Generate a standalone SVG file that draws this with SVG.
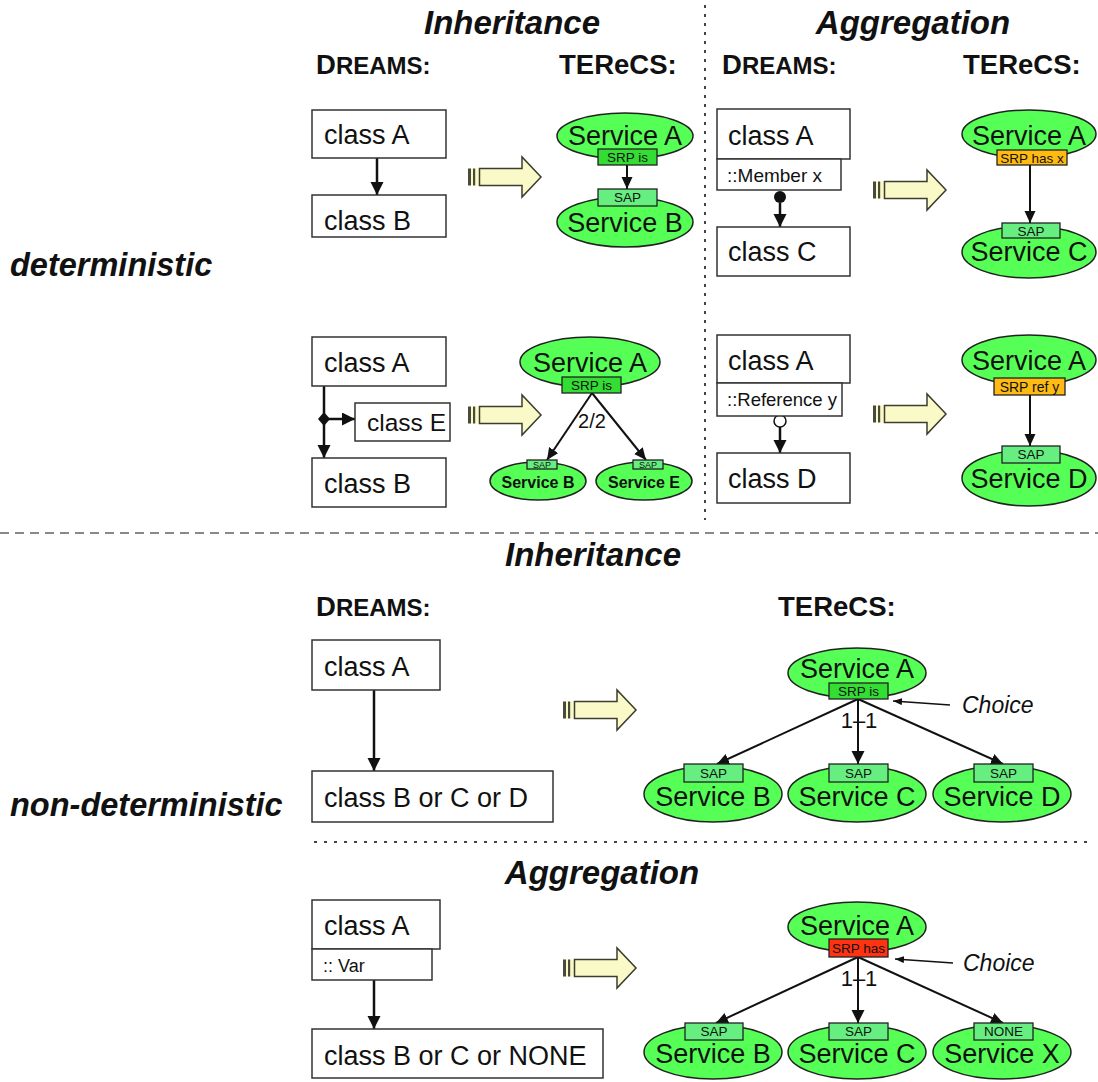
<svg xmlns="http://www.w3.org/2000/svg" xmlns:xlink="http://www.w3.org/1999/xlink" width="1098" height="1082" viewBox="0 0 1098 1082">
  <style>
    text { font-family: "Liberation Sans", Arial, sans-serif; fill: #111; }
    .head { font-size: 33px; font-weight: bold; font-style: italic; text-anchor: middle; }
    .side { font-size: 32.5px; font-weight: bold; font-style: italic; }
    .tool { font-size: 24px; font-weight: bold; }
    .tool2 { font-size: 27.5px; font-weight: bold; }
    .cls { font-size: 27px; }
    .mem { font-size: 19px; }
    .svcT { font-size: 27px; text-anchor: middle; }
    .svcS { font-size: 16px; font-weight: bold; text-anchor: middle; }
    .tag { font-size: 13.5px; text-anchor: middle; }
    .tagS { font-size: 9px; text-anchor: middle; }
    .num { font-size: 20px; text-anchor: middle; }
    .note { font-size: 23px; font-style: italic; }
    .box { fill: #fff; stroke: #333; stroke-width: 1.5; }
    .svc { fill: #55ff55; stroke: #222; stroke-width: 1.5; }
    .srp { fill: #33dd33; stroke: #222; stroke-width: 1.3; }
    .has { fill: #ffbb11; stroke: #222; stroke-width: 1.3; }
    .red { fill: #ff3311; stroke: #222; stroke-width: 1.3; }
    .sap { fill: #66ee80; stroke: #222; stroke-width: 1.3; }
    .conn { stroke: #111; stroke-width: 2.5; fill: none; }
    .sconn { stroke: #111; stroke-width: 2; fill: none; }
    .thin { stroke: #111; stroke-width: 1.3; fill: none; }
  </style>
  <defs>
    <marker id="ah" markerUnits="userSpaceOnUse" markerWidth="14" markerHeight="14" refX="13" refY="6.5" orient="auto">
      <path d="M0,0 L13,6.5 L0,13 z" fill="#111"/>
    </marker>
    <marker id="ah2" markerUnits="userSpaceOnUse" markerWidth="13" markerHeight="12" refX="12" refY="5.5" orient="auto">
      <path d="M0,0 L12,5.5 L0,11 z" fill="#111"/>
    </marker>
    <marker id="ah3" markerUnits="userSpaceOnUse" markerWidth="10" markerHeight="8" refX="9" refY="3.5" orient="auto">
      <path d="M0,0 L9,3.5 L0,7 z" fill="#111"/>
    </marker>
    <!-- transformation arrow, origin at the tail, vertically centred -->
    <g id="blk">
      <rect x="0" y="-8.5" width="12" height="17" fill="#fafac8"/>
      <rect x="0" y="-8.5" width="3" height="17" fill="#4a4a3a"/>
      <rect x="5" y="-8.5" width="2.2" height="17" fill="#4a4a3a"/>
      <polygon points="11.5,-8.5 54,-8.5 54,-20 73,0 54,20 54,8.5 11.5,8.5" fill="#fafac8" stroke="#3c3c30" stroke-width="1.5"/>
    </g>
  </defs>

  <!-- section separators -->
  <g id="separators">
    <line x1="705" y1="5" x2="705" y2="520" stroke="#444" stroke-width="2" stroke-dasharray="3 6"/>
    <line x1="0" y1="533" x2="1098" y2="533" stroke="#888" stroke-width="2" stroke-dasharray="9 6"/>
    <line x1="314" y1="842" x2="1092" y2="842" stroke="#444" stroke-width="2" stroke-dasharray="3 7"/>
  </g>

  <!-- headings -->
  <g id="headings">
    <text class="head" x="512" y="34">Inheritance</text>
    <text class="head" x="913" y="34">Aggregation</text>
    <text class="tool" x="316" y="74"><tspan style="font-size:27.5px">D</tspan>REAMS:</text>
    <text class="tool2" x="559" y="74">TEReCS:</text>
    <text class="tool" x="722" y="74"><tspan style="font-size:27.5px">D</tspan>REAMS:</text>
    <text class="tool2" x="963" y="74">TEReCS:</text>
    <text class="side" x="10" y="276">deterministic</text>
    <text class="head" x="593" y="566">Inheritance</text>
    <text class="tool" x="316" y="616"><tspan style="font-size:27.5px">D</tspan>REAMS:</text>
    <text class="tool2" x="778" y="616">TEReCS:</text>
    <text class="side" x="10" y="816">non-deterministic</text>
    <text class="head" x="602" y="884">Aggregation</text>
  </g>

  <!-- transformation arrows -->
  <g id="transforms">
    <use xlink:href="#blk" x="468" y="177"/>
    <use xlink:href="#blk" x="468" y="415"/>
    <use xlink:href="#blk" x="873" y="190"/>
    <use xlink:href="#blk" x="873" y="414"/>
    <use xlink:href="#blk" x="563" y="710"/>
    <use xlink:href="#blk" x="563" y="968"/>
  </g>

  <!-- connectors -->
  <g id="connectors">
    <!-- inheritance, deterministic -->
    <line class="conn" x1="377" y1="158" x2="377" y2="195" marker-end="url(#ah)"/>
    <line class="sconn" x1="627" y1="165" x2="627" y2="189" marker-end="url(#ah2)"/>
    <line class="conn" x1="324" y1="386" x2="324" y2="458" marker-end="url(#ah)"/>
    <line class="conn" x1="324" y1="419" x2="355" y2="419" marker-end="url(#ah)"/>
    <polygon points="324,412 330,419 324,426 318,419" fill="#111"/>
    <line class="sconn" x1="592" y1="393" x2="547" y2="460" marker-end="url(#ah2)"/>
    <line class="sconn" x1="592" y1="393" x2="646" y2="460" marker-end="url(#ah2)"/>
    <!-- aggregation, deterministic -->
    <line class="conn" x1="780" y1="203" x2="780" y2="227" marker-end="url(#ah)"/>
    <circle cx="780" cy="197" r="6" fill="#111"/>
    <line class="sconn" x1="1030" y1="165" x2="1030" y2="223" marker-end="url(#ah2)"/>
    <line class="conn" x1="780" y1="427" x2="780" y2="453" marker-end="url(#ah)"/>
    <circle cx="780" cy="421" r="6" fill="#fff" stroke="#111" stroke-width="1.5"/>
    <line class="sconn" x1="1030" y1="395" x2="1030" y2="446" marker-end="url(#ah2)"/>
    <!-- inheritance, non-deterministic -->
    <line class="conn" x1="374" y1="690" x2="374" y2="771" marker-end="url(#ah)"/>
    <line class="sconn" x1="858" y1="699" x2="717" y2="764" marker-end="url(#ah2)"/>
    <line class="sconn" x1="858" y1="699" x2="858" y2="764" marker-end="url(#ah)"/>
    <line class="sconn" x1="858" y1="699" x2="1003" y2="764" marker-end="url(#ah2)"/>
    <line class="thin" x1="950" y1="705" x2="893" y2="701" marker-end="url(#ah3)"/>
    <!-- aggregation, non-deterministic -->
    <line class="conn" x1="374" y1="980" x2="374" y2="1029" marker-end="url(#ah)"/>
    <line class="sconn" x1="858" y1="957" x2="716" y2="1023" marker-end="url(#ah2)"/>
    <line class="sconn" x1="858" y1="957" x2="858" y2="1023" marker-end="url(#ah)"/>
    <line class="sconn" x1="858" y1="957" x2="1003" y2="1023" marker-end="url(#ah2)"/>
    <line class="thin" x1="953" y1="963" x2="895" y2="959" marker-end="url(#ah3)"/>
  </g>

  <!-- DREAMS classes -->
  <g id="d1-classA"><rect class="box" x="312" y="110" width="134" height="48"/><text class="cls" x="324" y="144">class A</text></g>
  <g id="d1-classB"><rect class="box" x="312" y="195" width="134" height="42"/><text class="cls" x="324" y="230">class B</text></g>

  <g id="d2-classA"><rect class="box" x="312" y="337" width="134" height="49"/><text class="cls" x="324" y="372">class A</text></g>
  <g id="d2-classE"><rect class="box" x="355" y="403" width="95" height="38"/><text class="cls" x="367" y="431" style="font-size:24.5px">class E</text></g>
  <g id="d2-classB"><rect class="box" x="312" y="458" width="134" height="49"/><text class="cls" x="324" y="493">class B</text></g>

  <g id="d3-classA"><rect class="box" x="717" y="109" width="133" height="50"/><text class="cls" x="728" y="145">class A</text></g>
  <g id="d3-member"><rect class="box" x="717" y="159" width="124" height="31"/><text class="mem" x="727" y="182">::Member x</text></g>
  <g id="d3-classC"><rect class="box" x="717" y="227" width="133" height="49"/><text class="cls" x="728" y="261">class C</text></g>

  <g id="d4-classA"><rect class="box" x="717" y="335" width="133" height="48"/><text class="cls" x="728" y="370">class A</text></g>
  <g id="d4-ref"><rect class="box" x="717" y="383" width="125" height="33"/><text class="mem" x="727" y="406" style="font-size:18.5px">::Reference y</text></g>
  <g id="d4-classD"><rect class="box" x="717" y="453" width="133" height="50"/><text class="cls" x="728" y="488">class D</text></g>

  <g id="d5-classA"><rect class="box" x="312" y="640" width="128" height="50"/><text class="cls" x="324" y="676">class A</text></g>
  <g id="d5-classBCD"><rect class="box" x="312" y="771" width="241" height="51"/><text class="cls" x="324" y="807">class B or C or D</text></g>

  <g id="d6-classA"><rect class="box" x="312" y="900" width="128" height="49"/><text class="cls" x="324" y="935">class A</text></g>
  <g id="d6-var"><rect class="box" x="312" y="949" width="120" height="31"/><text class="mem" x="323" y="972" style="font-size:18px">:: Var</text></g>
  <g id="d6-classBCN"><rect class="box" x="312" y="1029" width="291" height="49"/><text class="cls" x="324" y="1065">class B or C or NONE</text></g>

  <!-- TEReCS services: deterministic inheritance -->
  <g id="t1-serviceA"><ellipse class="svc" cx="625" cy="136" rx="68" ry="23"/><text class="svcT" x="625" y="145">Service A</text>
    <rect class="srp" x="598" y="149" width="59" height="16"/><text class="tag" x="627.5" y="162">SRP is</text></g>
  <g id="t1-serviceB"><ellipse class="svc" cx="625" cy="222" rx="68" ry="25"/><text class="svcT" x="625" y="232">Service B</text>
    <rect class="sap" x="598" y="189" width="59" height="17"/><text class="tag" x="627.5" y="202">SAP</text></g>

  <g id="t2-serviceA"><ellipse class="svc" cx="590" cy="362" rx="70" ry="25"/><text class="svcT" x="590" y="372">Service A</text>
    <rect class="srp" x="562" y="377" width="59" height="16"/><text class="tag" x="591.5" y="390">SRP is</text></g>
  <text class="num" x="592" y="428">2/2</text>
  <g id="t2-serviceB"><ellipse class="svc" cx="538" cy="481" rx="48" ry="19"/><text class="svcS" x="538" y="488">Service B</text>
    <rect class="sap" x="527" y="460" width="30" height="9"/><text class="tagS" x="542" y="468">SAP</text></g>
  <g id="t2-serviceE"><ellipse class="svc" cx="644" cy="481" rx="48" ry="19"/><text class="svcS" x="644" y="488">Service E</text>
    <rect class="sap" x="633" y="460" width="30" height="9"/><text class="tagS" x="648" y="468">SAP</text></g>

  <!-- TEReCS services: deterministic aggregation -->
  <g id="t3-serviceA"><ellipse class="svc" cx="1029" cy="134" rx="67" ry="24"/><text class="svcT" x="1029" y="145">Service A</text>
    <rect class="has" x="997" y="150" width="70" height="15"/><text class="tag" x="1032" y="162.5">SRP has x</text></g>
  <g id="t3-serviceC"><ellipse class="svc" cx="1029" cy="252" rx="67" ry="26"/><text class="svcT" x="1029" y="261">Service C</text>
    <rect class="sap" x="1002" y="223" width="58" height="15"/><text class="tag" x="1031" y="235.5">SAP</text></g>

  <g id="t4-serviceA"><ellipse class="svc" cx="1029" cy="360" rx="67" ry="25"/><text class="svcT" x="1029" y="370">Service A</text>
    <rect class="has" x="994" y="378" width="71" height="17"/><text class="tag" x="1029.5" y="391.5" style="font-size:14px">SRP ref y</text></g>
  <g id="t4-serviceD"><ellipse class="svc" cx="1029" cy="478" rx="67" ry="28"/><text class="svcT" x="1029" y="488">Service D</text>
    <rect class="sap" x="1002" y="446" width="58" height="17"/><text class="tag" x="1031" y="459">SAP</text></g>

  <!-- TEReCS services: non-deterministic inheritance -->
  <g id="t5-serviceA"><ellipse class="svc" cx="857" cy="673" rx="69" ry="25"/><text class="svcT" x="857" y="678">Service A</text>
    <rect class="srp" x="829" y="683" width="59" height="16"/><text class="tag" x="858.5" y="696">SRP is</text></g>
  <text class="num" x="859" y="728" style="font-size:22px">1–1</text>
  <text class="note" x="962" y="713">Choice</text>
  <g id="t5-serviceB"><ellipse class="svc" cx="713" cy="794" rx="69" ry="28"/><text class="svcT" x="713" y="806">Service B</text>
    <rect class="sap" x="684" y="764" width="59" height="18"/><text class="tag" x="713.5" y="778">SAP</text></g>
  <g id="t5-serviceC"><ellipse class="svc" cx="857" cy="794" rx="69" ry="28"/><text class="svcT" x="857" y="806">Service C</text>
    <rect class="sap" x="829" y="764" width="59" height="18"/><text class="tag" x="858.5" y="778">SAP</text></g>
  <g id="t5-serviceD"><ellipse class="svc" cx="1002" cy="794" rx="69" ry="28"/><text class="svcT" x="1002" y="806">Service D</text>
    <rect class="sap" x="974" y="764" width="59" height="18"/><text class="tag" x="1003.5" y="778">SAP</text></g>

  <!-- TEReCS services: non-deterministic aggregation -->
  <g id="t6-serviceA"><ellipse class="svc" cx="857" cy="927" rx="69" ry="25"/><text class="svcT" x="857" y="935">Service A</text>
    <rect class="red" x="829" y="939" width="59" height="18"/><text class="tag" x="858.5" y="953">SRP has</text></g>
  <text class="num" x="859" y="986" style="font-size:22px">1–1</text>
  <text class="note" x="963" y="971">Choice</text>
  <g id="t6-serviceB"><ellipse class="svc" cx="713" cy="1052" rx="69" ry="27"/><text class="svcT" x="713" y="1063">Service B</text>
    <rect class="sap" x="685" y="1023" width="58" height="17"/><text class="tag" x="714" y="1036">SAP</text></g>
  <g id="t6-serviceC"><ellipse class="svc" cx="857" cy="1052" rx="69" ry="27"/><text class="svcT" x="857" y="1063">Service C</text>
    <rect class="sap" x="829" y="1023" width="59" height="17"/><text class="tag" x="858.5" y="1036">SAP</text></g>
  <g id="t6-serviceX"><ellipse class="svc" cx="1002" cy="1052" rx="69" ry="27"/><text class="svcT" x="1002" y="1063">Service X</text>
    <rect class="sap" x="974" y="1023" width="59" height="17"/><text class="tag" x="1003.5" y="1036">NONE</text></g>
</svg>
